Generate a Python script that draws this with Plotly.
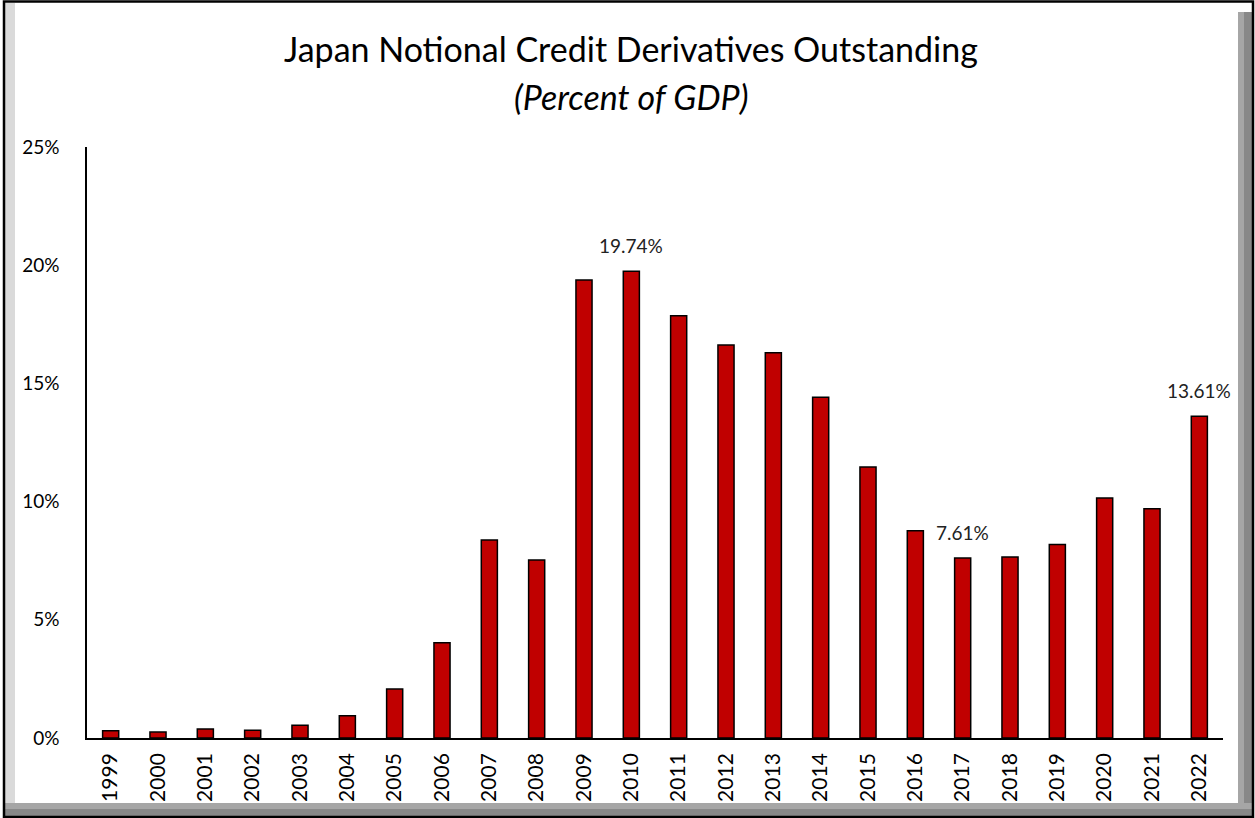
import plotly.graph_objects as go

years = [str(y) for y in range(1999, 2023)]
values = [0.31, 0.25, 0.38, 0.33, 0.54, 0.94, 2.07, 4.03, 8.38, 7.53, 19.37, 19.74,
          17.86, 16.62, 16.30, 14.41, 11.46, 8.77, 7.61, 7.66, 8.18, 10.15, 9.70, 13.61]
y_ticks = [0, 5, 10, 15, 20, 25]
y_tick_labels = ["0%", "5%", "10%", "15%", "20%", "25%"]
labelled = ["2010", "2017", "2022"]

W, H = 1255, 818
L, R, T, B = 87, 32, 147, 80
pw, ph = W - L - R, H - T - B

def px(x):
    return (x - L) / pw

def py(y):
    return (H - B - y) / ph

fig = go.Figure()
fig.add_trace(go.Bar(
    x=years, y=values,
    marker=dict(color="#C00000", line=dict(color="black", width=1.5)),
    hoverinfo="skip",
))

font = "Lato, 'Open Sans', sans-serif"

annotations = []
for i, (yr, v) in enumerate(zip(years, values)):
    if yr in labelled:
        annotations.append(dict(
            x=i, y=v, xref="x", yref="y",
            text=f"{v:.2f}%", showarrow=False,
            font=dict(family=font, size=19, color="#222"),
            xanchor="center", yanchor="bottom", yshift=12,
        ))
annotations.append(dict(
    x=px(W / 2 + 3), y=py(48), xref="paper", yref="paper",
    text="Japan Notional Credit Derivatives Outstanding", yanchor="middle",
    showarrow=False, font=dict(family=font, size=34, color="black")))
annotations.append(dict(
    x=px(W / 2 + 3), y=py(96), xref="paper", yref="paper",
    text="<i>(Percent of GDP)</i>", yanchor="middle",
    showarrow=False, font=dict(family=font, size=34, color="black")))

shapes = [
    dict(type="rect", xref="paper", yref="paper", x0=px(5), x1=px(15), y0=py(805), y1=py(3),
         fillcolor="#DADADA", line=dict(width=0), layer="below"),
    dict(type="rect", xref="paper", yref="paper", x0=px(1238), x1=px(1252), y0=py(816), y1=py(12),
         fillcolor="#A6A6A6", line=dict(width=0), layer="below"),
    dict(type="rect", xref="paper", yref="paper", x0=px(1244), x1=px(1252), y0=py(816), y1=py(12),
         fillcolor="#888888", line=dict(width=0), layer="below"),
    dict(type="rect", xref="paper", yref="paper", x0=px(5), x1=px(1252), y0=py(816), y1=py(803),
         fillcolor="#A6A6A6", line=dict(width=0), layer="below"),
    dict(type="rect", xref="paper", yref="paper", x0=px(5), x1=px(1252), y0=py(816), y1=py(809),
         fillcolor="#888888", line=dict(width=0), layer="below"),
    dict(type="rect", xref="paper", yref="paper", x0=px(4), x1=px(1253), y0=py(817), y1=py(1.5),
         line=dict(color="black", width=2.5), fillcolor="rgba(0,0,0,0)", layer="below"),
]

fig.update_layout(
    width=W, height=H,
    margin=dict(l=L, r=R, t=T, b=B, autoexpand=False),
    paper_bgcolor="white", plot_bgcolor="white",
    showlegend=False,
    bargap=0.66,
    font=dict(family=font, size=19, color="black"),
    annotations=annotations,
    shapes=shapes,
    xaxis=dict(
        type="category", range=[-0.5, len(years) - 0.5], tickangle=-90,
        showline=True, linecolor="black", linewidth=1.5,
        ticks="", showgrid=False, tickfont=dict(family=font, size=21, color="black"),
        ticklabelstandoff=5,
    ),
    yaxis=dict(
        range=[0, 25], tickvals=y_ticks, ticktext=y_tick_labels, showline=True,
        linecolor="black", linewidth=1.5, showgrid=False, zeroline=False, ticks="",
        tickfont=dict(family=font, size=19, color="black"), ticklabelstandoff=22,
    ),
)

fig.write_html("out.html")
